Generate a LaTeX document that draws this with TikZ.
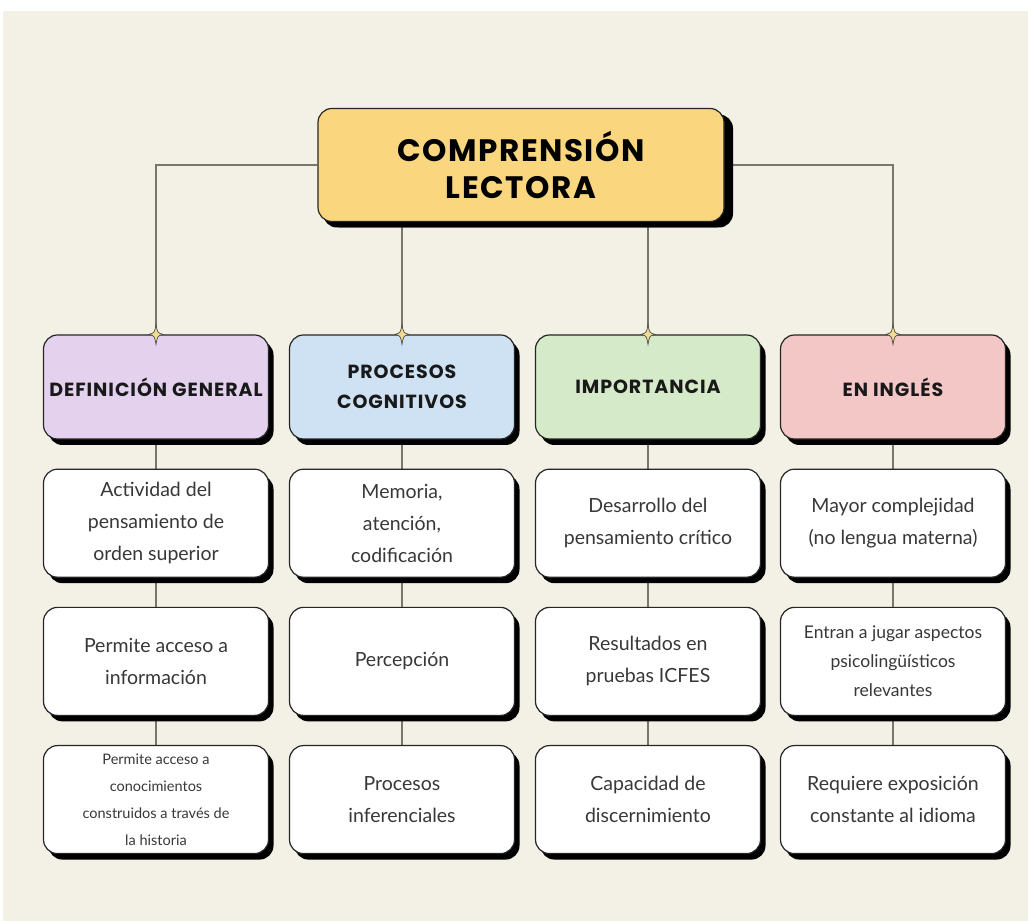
\documentclass[tikz,border=0pt]{standalone}
\usepackage{fontspec}
\setmainfont{Lato}
\newfontfamily\headfont[LetterSpace=5]{Poppins}
\usepackage{tikz}
\usetikzlibrary{positioning, shadows}
\usepackage{xcolor}
\definecolor{paper}{HTML}{F3F0E5}
\definecolor{titlefill}{HTML}{FAD67F}
\definecolor{defcolor}{HTML}{E4D1EE}
\definecolor{procolor}{HTML}{CFE2F3}
\definecolor{impcolor}{HTML}{D4EAC8}
\definecolor{ingcolor}{HTML}{F4C7C7}
\definecolor{sparkfill}{HTML}{F2DC8F}
\definecolor{linegrey}{HTML}{77776E}
\pgfdeclarelayer{paperlayer}
\pgfdeclarelayer{lines}
\pgfsetlayers{paperlayer,lines,main}

\begin{document}
\begin{tikzpicture}[x=1pt, y=1pt,
    blackshadow/.style={drop shadow={shadow xshift=#1, shadow yshift=-6pt, fill=black, opacity=1}},
    blackshadow/.default=5pt,
    box/.style={draw=black!85, line width=1.2pt, rounded corners=14pt, fill=white, blackshadow,
        minimum width=225pt, minimum height=108pt, align=center, text=black!78,
        font=\fontsize{19.5}{32}\selectfont}, % cajas blancas
    head/.style={box, minimum height=104pt, inner xsep=0pt, text=black!90,
        font=\headfont\bfseries\fontsize{19}{30}\selectfont},
    link/.style={draw=linegrey, line width=1.3pt},
    spark/.style={fill=sparkfill, draw=black!70, line width=0.7pt},
    node distance=29pt
    ]
\begin{pgfonlayer}{paperlayer}
\fill[white] (0,0) rectangle (1028,921);
\fill[paper] (3,0) rectangle (1028,910);
\end{pgfonlayer}

\node[box, fill=titlefill, blackshadow=9pt, minimum width=406pt, minimum height=113pt, text=black,
    font=\headfont\bfseries\fontsize{31}{37}\selectfont] (lectora) at (521,756) {COMPRENSIÓN\\LECTORA};

\node[head, fill=defcolor] (definicion) at (156,534) {DEFINICIÓN GENERAL};
\node[head, fill=procolor] (procesos) at (402,534) {PROCESOS\\COGNITIVOS};
\node[head, fill=impcolor] (importancia) at (648,534) {IMPORTANCIA};
\node[head, fill=ingcolor] (ingles) at (893,534) {EN INGLÉS};

\node[box, below=of definicion] (definicion-1) {Actividad del\\pensamiento de\\orden superior};
\node[box, below=of definicion-1] (definicion-2) {Permite acceso a\\información};
\node[box, below=of definicion-2, font=\fontsize{14.5}{27}\selectfont] (definicion-3) {Permite acceso a\\conocimientos\\construidos a través de\\la historia};

\node[box, below=of procesos] (procesos-1) {Memoria,\\atención,\\codificación};
\node[box, below=of procesos-1] (procesos-2) {Percepción};
\node[box, below=of procesos-2] (procesos-3) {Procesos\\inferenciales};

\node[box, below=of importancia] (importancia-1) {Desarrollo del\\pensamiento crítico};
\node[box, below=of importancia-1] (importancia-2) {Resultados en\\pruebas ICFES};
\node[box, below=of importancia-2] (importancia-3) {Capacidad de\\discernimiento};

\node[box, below=of ingles] (ingles-1) {Mayor complejidad\\(no lengua materna)};
\node[box, below=of ingles-1, font=\fontsize{17.5}{29}\selectfont] (ingles-2) {Entran a jugar aspectos\\psicolingüísticos\\relevantes};
\node[box, below=of ingles-2] (ingles-3) {Requiere exposición\\constante al idioma};

\begin{pgfonlayer}{lines}
\draw[link] (lectora) -| (definicion);
\draw[link] (lectora) -| (ingles);
\draw[link] (lectora.south -| procesos) -- (procesos);
\draw[link] (lectora.south -| importancia) -- (importancia);
\foreach \n in {definicion, procesos, importancia, ingles} {
    \draw[link] (\n) -- (\n-1);
    \draw[link] (\n-1) -- (\n-2);
    \draw[link] (\n-2) -- (\n-3);
}
\end{pgfonlayer}

\foreach \n in {definicion, procesos, importancia, ingles}
    \filldraw[spark, shift={(\n.north)}] (0,10) .. controls (1.5,1.5) .. (7,0) .. controls (1.5,-1.5) .. (0,-10)
        .. controls (-1.5,-1.5) .. (-7,0) .. controls (-1.5,1.5) .. (0,10) -- cycle;
\end{tikzpicture}
\end{document}
